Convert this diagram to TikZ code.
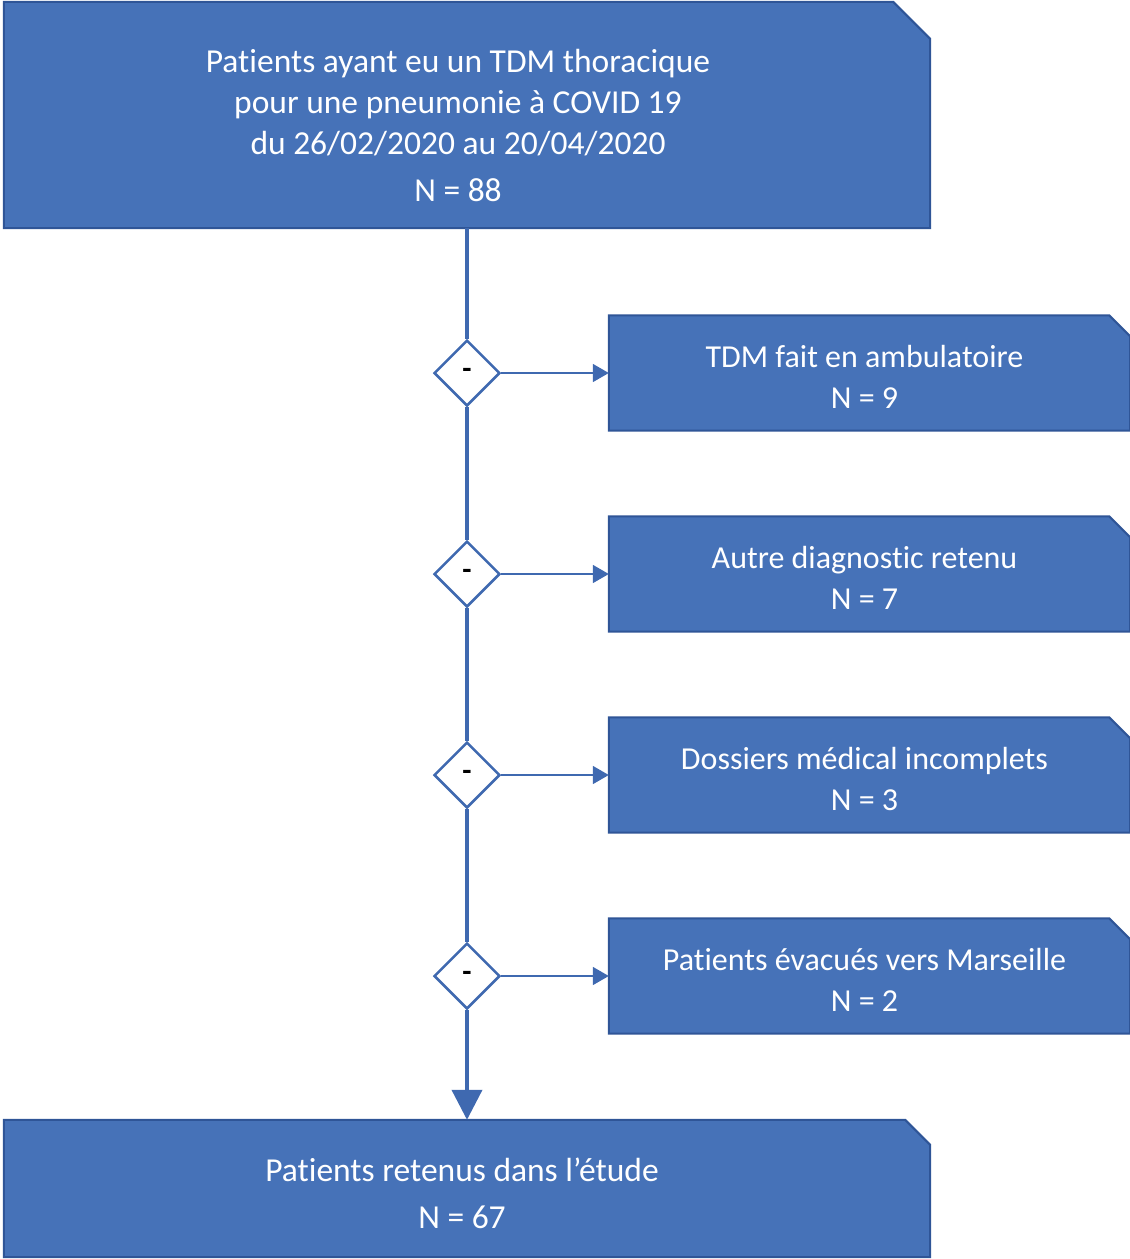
\documentclass[tikz,border=0pt]{standalone}
\usepackage{fontspec}
\setmainfont[Ligatures=NoCommon]{Carlito}
\usetikzlibrary{shapes.geometric,arrows.meta}
\definecolor{boxblue}{HTML}{4672B8}
\definecolor{edgeblue}{HTML}{2F5597}
\definecolor{lineblue}{HTML}{3F69B0}
\tikzset{
  stagebox/.style={rectangle, inner sep=0pt},
  exitbox/.style={stagebox, minimum width=521pt, minimum height=115pt},
  boxfill/.style={fill=boxblue, draw=edgeblue, line width=2pt, line join=miter},
  boxtext/.style={text=white, align=center, font=\fontsize{32}{41}\selectfont, inner sep=0pt},
  bigtext/.style={boxtext, font=\fontsize{33.5}{41}\selectfont},
  check/.style={diamond, aspect=1, fill=white, draw=lineblue, line width=2.5pt,
    minimum size=66pt, inner sep=0pt, font=\bfseries\fontsize{30}{30}\selectfont},
  mainline/.style={draw=lineblue, line width=4pt},
  sideline/.style={draw=lineblue, line width=1.6pt, -{Triangle[length=16pt,width=18pt]}}
}
% box outline with the upper right corner cut off
\newcommand{\snipbox}[2]{%
  \path[boxfill] (#1.south west) -- (#1.north west) -- ([xshift=-#2]#1.north east)
    -- ([yshift=-#2]#1.north east) -- (#1.south east) -- cycle;}
\begin{document}
\begin{tikzpicture}[x=1pt,y=-1pt]
\useasboundingbox (0,0) rectangle (1130,1259);
% top box
\node[stagebox, minimum width=926pt, minimum height=226pt] (start) at (467,115) {};
\snipbox{start}{37pt}
\node[bigtext] (starttext) at ([xshift=-9pt,yshift=-10pt]start.center)
  {Patients ayant eu un TDM thoracique\\pour une pneumonie à COVID 19\\du 26/02/2020 au 20/04/2020\\[6pt]N = 88};
% checks
\foreach \i/\y in {1/373,2/574,3/775,4/976}
  \node[check] (d\i) at (467,\y) {-};
% excluded
\node[exitbox] (ex1) at (869.5,373) {};
\node[exitbox] (ex2) at (869.5,574) {};
\node[exitbox] (ex3) at (869.5,775) {};
\node[exitbox] (ex4) at (869.5,976) {};
\foreach \i in {1,...,4}{
  \snipbox{ex\i}{21pt}
}
\node[boxtext] (ex1text) at ([xshift=-5pt,yshift=-4pt]ex1.center) {TDM fait en ambulatoire\\N = 9};
\node[boxtext] (ex2text) at ([xshift=-5pt,yshift=-4pt]ex2.center) {Autre diagnostic retenu\\N = 7};
\node[boxtext] (ex3text) at ([xshift=-5pt,yshift=-4pt]ex3.center) {Dossiers médical incomplets\\N = 3};
\node[boxtext] (ex4text) at ([xshift=-5pt,yshift=-4pt]ex4.center) {Patients évacués vers Marseille\\N = 2};
% bottom box
\node[stagebox, minimum width=926pt, minimum height=137pt] (final) at (467,1188.5) {};
\snipbox{final}{25pt}
\node[bigtext] (finaltext) at ([xshift=-5pt,yshift=-5pt]final.center)
  {Patients retenus dans l’étude\\[6pt]N = 67};
% main line
\draw[mainline] (start.south) -- (d1.north);
\draw[mainline] (d1.south) -- (d2.north);
\draw[mainline] (d2.south) -- (d3.north);
\draw[mainline] (d3.south) -- (d4.north);
\draw[mainline, -{Triangle[length=30pt,width=30pt]}] (d4.south) -- (final.north);
% side arrows
\foreach \i in {1,...,4}
  \draw[sideline] (d\i.east) -- (ex\i.west);
\end{tikzpicture}
\end{document}
